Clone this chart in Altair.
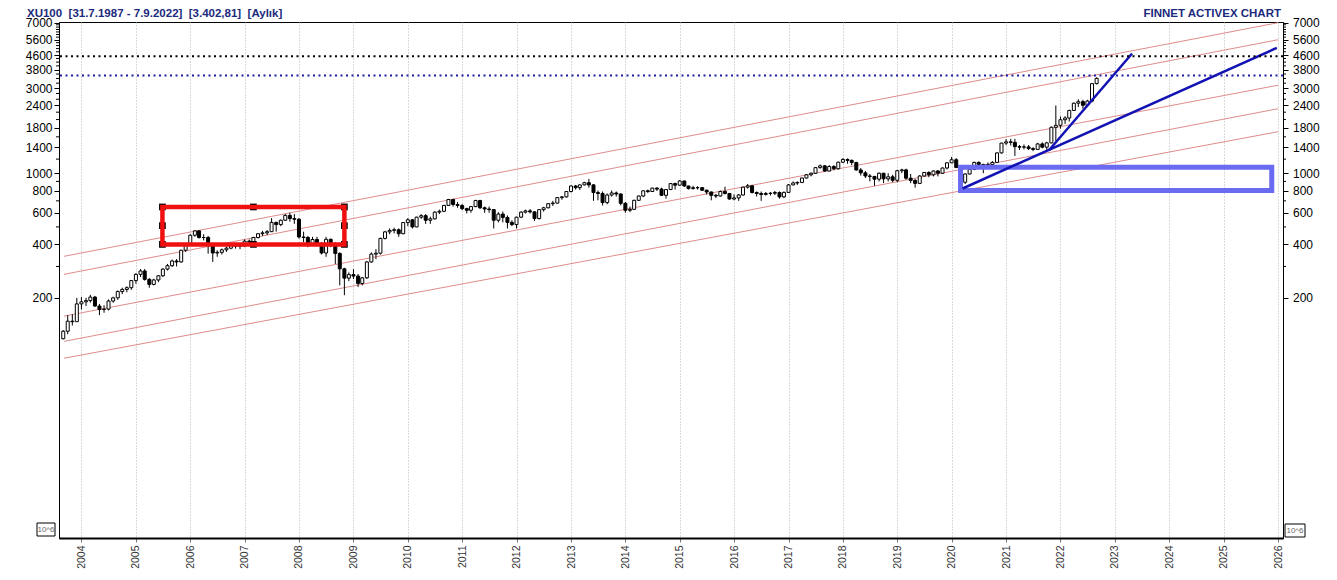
import altair as alt
import pandas as pd

# ---------------- data (monthly XU100 candles, Sep 2003 .. Sep 2022) ----------------
first_month = "2003-09-01"
first_open = 118

closes = [
    130, 148, 147, 185,                                              # 2003 (Sep-Dec)
    190, 193, 202, 180, 172, 173, 192, 200, 217, 223, 228, 250,      # 2004
    271, 283, 254, 238, 252, 266, 290, 303, 322, 318, 370, 395,      # 2005
    449, 475, 436, 436, 403, 357, 360, 372, 380, 395, 390, 392,      # 2006
    416, 412, 436, 458, 463, 470, 530, 515, 545, 580, 557, 552,      # 2007
    439, 436, 403, 425, 405, 357, 426, 400, 355, 291, 258, 270,      # 2008
    265, 241, 259, 318, 352, 356, 431, 469, 478, 482, 458, 529,      # 2009
    548, 500, 567, 578, 545, 555, 605, 612, 660, 712, 668, 660,      # 2010
    633, 620, 650, 703, 640, 630, 625, 545, 590, 565, 530, 515,      # 2011
    567, 605, 615, 607, 557, 625, 640, 675, 680, 730, 737, 790,      # 2012
    848, 830, 860, 885, 860, 779, 770, 685, 755, 775, 765, 678,      # 2013
    620, 627, 705, 745, 797, 790, 825, 815, 752, 810, 875, 857,      # 2014
    905, 848, 820, 830, 830, 803, 785, 752, 745, 790, 770, 717,      # 2015
    727, 755, 835, 850, 780, 770, 760, 770, 772, 780, 737, 781,      # 2016
    860, 882, 888, 940, 980, 1000, 1075, 1100, 1029, 1090, 1060, 1153,  # 2017
    1195, 1180, 1149, 1043, 1005, 965, 960, 926, 1000, 930, 955, 913,   # 2018
    1033, 1044, 938, 911, 877, 965, 1010, 980, 1030, 1000, 1070, 1144,  # 2019
    1190, 1076, 890, 990, 1050, 1150, 1120, 1085, 1120, 1150, 1300, 1476,  # 2020
    1500, 1490, 1410, 1400, 1405, 1375, 1360, 1460, 1400, 1480, 1810, 1857,  # 2021
    1995, 2040, 2250, 2470, 2520, 2405, 2540, 3180, 3403,            # 2022 (Jan-Sep)
]

highs = [
    132, 160, 162, 200,
    202, 200, 208, 205, 185, 182, 196, 203, 220, 228, 232, 252,
    275, 290, 290, 258, 256, 268, 293, 310, 328, 330, 372, 398,
    455, 480, 478, 455, 445, 405, 370, 378, 388, 402, 405, 400,
    425, 425, 440, 462, 475, 480, 560, 535, 550, 590, 600, 590,
    560, 470, 445, 440, 440, 410, 440, 430, 410, 360, 295, 278,
    290, 272, 262, 322, 360, 375, 435, 475, 490, 495, 490, 532,
    560, 552, 570, 590, 590, 570, 612, 625, 665, 718, 720, 690,
    670, 640, 655, 710, 710, 650, 650, 630, 605, 610, 580, 545,
    570, 612, 625, 630, 612, 630, 648, 680, 700, 735, 745, 795,
    855, 860, 865, 895, 930, 870, 800, 790, 770, 800, 790, 770,
    690, 650, 710, 750, 800, 810, 830, 835, 830, 815, 880, 885,
    915, 905, 850, 850, 845, 835, 810, 790, 765, 800, 840, 775,
    760, 765, 840, 870, 860, 790, 790, 785, 785, 795, 790, 790,
    870, 900, 900, 945, 990, 1010, 1080, 1120, 1110, 1110, 1110, 1160,
    1215, 1210, 1195, 1160, 1070, 1030, 990, 965, 1010, 1005, 1000, 980,
    1045, 1060, 1060, 990, 930, 975, 1015, 1025, 1035, 1040, 1075, 1150,
    1235, 1215, 1090, 1000, 1065, 1160, 1165, 1130, 1150, 1170, 1310, 1480,
    1555, 1560, 1560, 1440, 1450, 1440, 1400, 1480, 1490, 1500, 1830, 2400,
    2080, 2090, 2270, 2490, 2600, 2580, 2580, 3200, 3450,
]

lows = [
    117, 125, 140, 152,
    172, 180, 188, 178, 160, 165, 170, 188, 195, 210, 215, 222,
    240, 262, 250, 228, 235, 245, 262, 285, 298, 300, 315, 362,
    400, 440, 430, 420, 354, 318, 340, 350, 362, 375, 378, 375,
    385, 395, 405, 430, 445, 450, 468, 470, 505, 540, 535, 520,
    430, 410, 385, 395, 395, 350, 340, 385, 310, 235, 207, 248,
    255, 230, 235, 255, 315, 330, 350, 425, 455, 460, 440, 455,
    505, 490, 498, 555, 520, 520, 550, 590, 605, 655, 650, 640,
    620, 595, 600, 645, 630, 600, 600, 490, 530, 530, 490, 505,
    490, 560, 595, 595, 540, 550, 610, 635, 655, 675, 710, 730,
    780, 810, 805, 855, 830, 700, 705, 660, 670, 740, 740, 660,
    600, 605, 625, 700, 735, 775, 785, 795, 745, 720, 805, 810,
    850, 840, 810, 810, 810, 795, 760, 705, 725, 740, 760, 710,
    705, 700, 750, 820, 770, 740, 700, 750, 750, 755, 720, 725,
    780, 855, 860, 880, 935, 960, 995, 1060, 1020, 1025, 1040, 1050,
    1140, 1130, 1110, 1035, 970, 940, 900, 850, 900, 880, 900, 890,
    890, 1000, 920, 880, 830, 870, 960, 950, 960, 960, 990, 1050,
    1140, 1070, 820, 870, 985, 1040, 1100, 1000, 1060, 1080, 1140, 1290,
    1440, 1430, 1250, 1350, 1360, 1350, 1330, 1360, 1380, 1340, 1470, 1520,
    1780, 1890, 1950, 2240, 2350, 2300, 2350, 2500, 3150,
]

# parallel red channel lines (value at left edge, value at right edge)
channel_dates = ["2003-09-06", "2026-01-01"]
channel_left = [342, 271, 158, 114, 91.7]
channel_right = [6984, 5607, 3116, 2300, 1709]

# blue trend lines
trend_dates = [["2020-03-15", "2025-12-24"], ["2021-10-16", "2023-04-27"]]
trend_values = [[821, 5043], [1346, 4691]]

# boxes
red_box_dates = ["2005-06-28", "2008-11-01"]
red_box_values = [399, 647]
blue_box_dates = ["2020-03-01", "2025-11-20"]
blue_box_values = [800, 1080]

# dotted horizontal levels
level_black = [4530]
level_blue = [3530]

# axis ticks
y_major = [200, 400, 600, 800, 1000, 1400, 1800, 2400, 3000, 3800, 4600, 5600, 7000]
y_minor = [300, 500, 700, 900, 1200, 1600, 2000, 2200, 2600, 2800, 3200, 3400, 3600,
           4000, 4200, 4400, 4800, 5000, 5200, 5400, 5800, 6000, 6200, 6400, 6600, 6800]

title_left = "XU100\u00a0\u00a0[31.7.1987 - 7.9.2022]\u00a0\u00a0[3.402,81]\u00a0\u00a0[Aylık]"
title_right = "FİNNET ACTIVEX CHART"

# ---------------- tables ----------------
n = len(closes)
months = pd.date_range(first_month, periods=n, freq="MS")
opens = [first_open] + closes[:-1]
candles = pd.DataFrame({
    "date": months,
    "open": opens,
    "close": closes,
    "high": [max(h, o, c) for h, o, c in zip(highs, opens, closes)],
    "low": [min(l, o, c) for l, o, c in zip(lows, opens, closes)],
})
candles["dir"] = ["up" if c >= o else "down" for o, c in zip(opens, closes)]

chan_rows = []
for i, (a, b) in enumerate(zip(channel_left, channel_right)):
    chan_rows.append({"id": i, "date": pd.Timestamp(channel_dates[0]), "v": a})
    chan_rows.append({"id": i, "date": pd.Timestamp(channel_dates[1]), "v": b})
chan_df = pd.DataFrame(chan_rows)

trend_rows = []
for i, (ds, vs) in enumerate(zip(trend_dates, trend_values)):
    for d, v in zip(ds, vs):
        trend_rows.append({"id": i, "date": pd.Timestamp(d), "v": v})
trend_df = pd.DataFrame(trend_rows)

red_box = pd.DataFrame({"x": [pd.Timestamp(red_box_dates[0])], "x2": [pd.Timestamp(red_box_dates[1])],
                        "lo": [red_box_values[0]], "hi": [red_box_values[1]]})
blue_box = pd.DataFrame({"x": [pd.Timestamp(blue_box_dates[0])], "x2": [pd.Timestamp(blue_box_dates[1])],
                         "lo": [blue_box_values[0]], "hi": [blue_box_values[1]]})

rx0, rx1 = pd.Timestamp(red_box_dates[0]), pd.Timestamp(red_box_dates[1])
rxm = rx0 + (rx1 - rx0) / 2
ry0, ry1 = red_box_values
rym = (ry0 * ry1) ** 0.5
handles = pd.DataFrame({
    "date": [rx0, rxm, rx1, rx0, rx1, rx0, rxm, rx1],
    "v": [ry1, ry1, ry1, rym, rym, ry0, ry0, ry0],
})

# ---------------- scales / axes ----------------
W, H = 1224, 516
xscale = alt.Scale(domain=[alt.DateTime(year=2003, month=9, date=6),
                           alt.DateTime(year=2026, month=1, date=1)], nice=False)
yscale = alt.Scale(type="log", domain=[9.0, 7050], nice=False)

x_axis = alt.Axis(tickCount={"interval": "year", "step": 1},
                  format="%Y", labelAngle=-90, labelFont="Liberation Sans", labelFontSize=10.5,
                  labelColor="#333333", labelPadding=3, labelFlush=False, labelOverlap=False,
                  tickSize=4, tickColor="#777777", domainColor="black", domainWidth=2,
                  grid=True, gridColor="#b5b5b5", gridDash=[1, 2], title=None)

def yaxis(orient, pad):
    return alt.Axis(values=y_major, orient=orient, format="d", labelFont="Liberation Sans",
                    labelFontSize=12, labelColor="black", labelPadding=pad, labelOverlap=False,
                    tickSize=5, tickColor="black", domainColor="black", grid=False, title=None)

# every layer carries the same x axis definition (merged into one shared axis)
X = lambda f: alt.X(f, scale=xscale, axis=x_axis)
Y = lambda f: alt.Y(f, scale=yscale, axis=None)

# ---------------- layers ----------------
channels = alt.Chart(chan_df).mark_line(color="#de8c8c", strokeWidth=1).encode(
    x=X("date:T"), y=Y("v:Q"), detail="id:N")

wicks = alt.Chart(candles).mark_rule(color="black", strokeWidth=1).encode(
    x=X("date:T"),
    y=alt.Y("low:Q", scale=yscale, axis=yaxis("left", 2)),
    y2="high:Q")

bodies = alt.Chart(candles).mark_bar(size=3, stroke="black", strokeWidth=1).encode(
    x=X("date:T"), y=Y("open:Q"), y2="close:Q",
    fill=alt.Fill("dir:N", scale=alt.Scale(domain=["up", "down"], range=["white", "black"]), legend=None))

handle_marks = alt.Chart(handles).mark_square(size=45, color="black", opacity=1).encode(
    x=X("date:T"), y=Y("v:Q"))

red_rect = alt.Chart(red_box).mark_rect(fill="transparent", stroke="#f01010", strokeWidth=4.5).encode(
    x=X("x:T"), x2="x2:T", y=Y("lo:Q"), y2="hi:Q")

blue_rect = alt.Chart(blue_box).mark_rect(fill="transparent", stroke="#6b6bf2", strokeWidth=5).encode(
    x=X("x:T"), x2="x2:T", y=Y("lo:Q"), y2="hi:Q")

trends = alt.Chart(trend_df).mark_line(color="#1212b4", strokeWidth=2.5).encode(
    x=X("date:T"), y=Y("v:Q"), detail="id:N")

dot_black = alt.Chart(pd.DataFrame({"v": level_black})).mark_rule(
    color="black", strokeWidth=2, strokeDash=[2, 3.5]).encode(
    y=alt.Y("v:Q", scale=yscale, axis=yaxis("right", 4.5)))

dot_blue = alt.Chart(pd.DataFrame({"v": level_blue})).mark_rule(
    color="#1c1ca8", strokeWidth=2, strokeDash=[2, 3.5]).encode(y=Y("v:Q"))

minor_df = pd.DataFrame({"v": y_minor})
minor_left = alt.Chart(minor_df).mark_rule(color="black", strokeWidth=1).encode(
    y=Y("v:Q"), x=alt.value(-3), x2=alt.value(0))
minor_right = alt.Chart(minor_df).mark_rule(color="black", strokeWidth=1).encode(
    y=Y("v:Q"), x=alt.value(W), x2=alt.value(W + 3))

txt_left = alt.Chart(pd.DataFrame({"t": [title_left]})).mark_text(
    align="left", baseline="top", font="Liberation Sans", fontSize=11.5, fontWeight="bold",
    color="#1b2a7c").encode(x=alt.value(-32), y=alt.value(-14.5), text="t:N")
txt_right = alt.Chart(pd.DataFrame({"t": [title_right]})).mark_text(
    align="right", baseline="top", font="Liberation Sans", fontSize=11.5, fontWeight="bold",
    color="#1b2a7c").encode(x=alt.value(1222), y=alt.value(-14.5), text="t:N")

box_df = pd.DataFrame({"t": ["10^6"]})
box_l = alt.Chart(box_df).mark_rect(fill="white", stroke="black", strokeWidth=1).encode(
    x=alt.value(-22), x2=alt.value(-4), y=alt.value(501), y2=alt.value(514))
box_l_t = alt.Chart(box_df).mark_text(fontSize=8, font="Liberation Sans", color="#666666",
                                      baseline="middle").encode(
    x=alt.value(-13), y=alt.value(507.5), text="t:N")
box_r = alt.Chart(box_df).mark_rect(fill="white", stroke="black", strokeWidth=1).encode(
    x=alt.value(W + 2), x2=alt.value(W + 22), y=alt.value(502), y2=alt.value(515))
box_r_t = alt.Chart(box_df).mark_text(fontSize=8, font="Liberation Sans", color="#666666",
                                      baseline="middle").encode(
    x=alt.value(W + 12), y=alt.value(508.5), text="t:N")

chart = alt.layer(
    channels, wicks, bodies, handle_marks, red_rect, blue_rect, trends,
    dot_black, dot_blue, minor_left, minor_right,
    txt_left, txt_right, box_l, box_l_t, box_r, box_r_t,
).resolve_scale(y="shared").resolve_axis(y="independent").properties(
    width=W, height=H,
    padding={"left": 51, "top": 14, "right": 46, "bottom": 32},
    autosize=alt.AutoSizeParams(type="none"),
    background="white",
).configure_view(stroke="black", strokeWidth=1)

chart.save("out.html", embed_options={"renderer": "svg", "actions": False})
